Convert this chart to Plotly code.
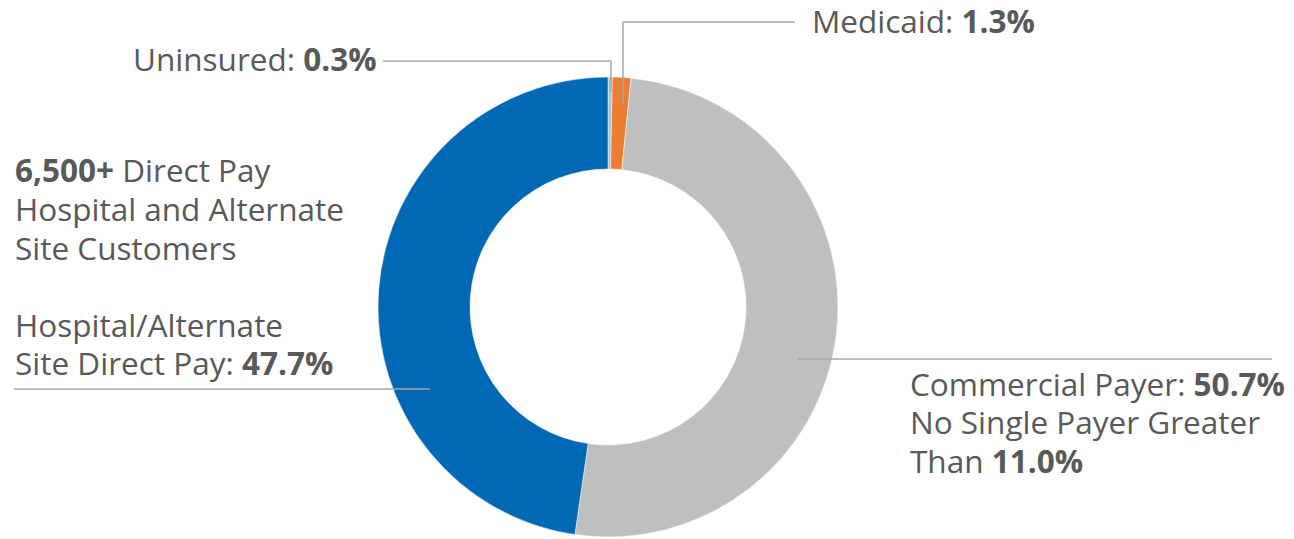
import plotly.graph_objects as go

W, H = 1294, 539
OFF = 8  # page body margin

labels = ["Uninsured", "Medicaid", "Commercial Payer", "Hospital/Alternate Site Direct Pay"]
values = [0.3, 1.3, 50.7, 47.7]
colors = ["#9DC3E6", "#ED7D31", "#BFBFBF", "#0068B4"]

TXT = "#595959"
LINE = "#A6A6A6"
FONT = "Open Sans"
FS = 31.5

def px(x):
    return (x - OFF) / W

def py(y):
    return 1 - (y - OFF) / H

fig = go.Figure()
fig.add_trace(go.Pie(
    labels=labels, values=values, sort=False, direction="clockwise", rotation=0,
    hole=0.6, marker=dict(colors=colors, line=dict(color="white", width=0.5)),
    textinfo="none", hoverinfo="label+percent", showlegend=False,
    domain=dict(x=[px(378), px(838)], y=[py(537), py(77)]),
))

# leader lines (pixel positions in the screenshot)
segments = [
    [(383, 61), (611, 61), (611, 92)],
    [(795, 22), (623, 22), (623, 104)],
    [(798, 359), (1272, 359)],
    [(14, 389), (430, 389)],
]
shapes = []
for seg in segments:
    for (x0, y0), (x1, y1) in zip(seg[:-1], seg[1:]):
        shapes.append(dict(type="line", xref="paper", yref="paper",
                           x0=px(x0), y0=py(y0), x1=px(x1), y1=py(y1),
                           line=dict(color=LINE, width=1.5)))

# text lines: (text, left x, visual centre y)
text_lines = [
    ("Uninsured: <b>0.3%</b>", 131, 60),
    ("Medicaid: <b>1.3%</b>", 810, 22),
    ("<b>6,500+</b> Direct Pay", 13, 170),
    ("Hospital and Alternate", 13, 210),
    ("Site Customers", 13, 248),
    ("Hospital/Alternate", 13, 325),
    ("Site Direct Pay: <b>47.7%</b>", 13, 363),
    ("Commercial Payer: <b>50.7%</b>", 908, 384),
    ("No Single Payer Greater", 908, 422),
    ("Than <b>11.0%</b>", 908, 461),
]
annotations = []
for t, x, y in text_lines:
    annotations.append(dict(text=t, xref="paper", yref="paper", x=px(x), y=py(y - 1),
                            xanchor="left", yanchor="middle", showarrow=False,
                            font=dict(family=FONT, size=FS, color=TXT)))

fig.update_layout(
    width=W, height=H, margin=dict(l=0, r=0, t=0, b=0),
    paper_bgcolor="white", plot_bgcolor="white",
    shapes=shapes, annotations=annotations,
)

fig.write_html("out.html")
